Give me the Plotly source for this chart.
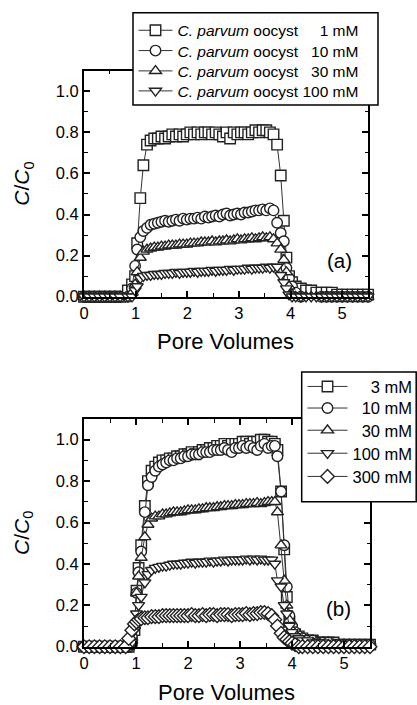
import plotly.graph_objects as go

# ---------------- data: panel (a) ----------------
xa = [0.0, 0.1, 0.2, 0.3, 0.4, 0.5, 0.6, 0.7, 0.85, 0.93,
      0.99, 1.03, 1.09, 1.15, 1.22, 1.29, 1.36, 1.43, 1.50, 1.57,
      1.64, 1.71, 1.78, 1.85, 1.92, 1.99, 2.06, 2.13, 2.20, 2.27,
      2.34, 2.41, 2.48, 2.55, 2.62, 2.69, 2.76, 2.83, 2.90, 2.97,
      3.04, 3.11, 3.18, 3.25, 3.32, 3.39, 3.46, 3.53, 3.60, 3.67,
      3.74, 3.81, 3.87, 3.92, 3.97, 4.03, 4.10, 4.2, 4.3, 4.4,
      4.5, 4.6, 4.7, 4.8, 4.9, 5.0, 5.1, 5.2, 5.3, 5.4, 5.5]

a_1mM = [0, 0, 0, 0, 0, 0, 0, 0, 0.03, 0.06,
         0.10, 0.26, 0.48, 0.64, 0.74, 0.76, 0.77, 0.77, 0.78, 0.77,
         0.78, 0.79, 0.78, 0.79, 0.78, 0.79, 0.80, 0.79, 0.80, 0.79,
         0.80, 0.80, 0.79, 0.80, 0.79, 0.78, 0.80, 0.77, 0.80, 0.79,
         0.80, 0.80, 0.79, 0.80, 0.81, 0.80, 0.81, 0.81, 0.80, 0.79,
         0.74, 0.59, 0.37, 0.19, 0.10, 0.07, 0.05, 0.04, 0.03, 0.03,
         0.02, 0.02, 0.02, 0.02, 0.01, 0.01, 0.01, 0.01, 0.01, 0.01, 0.01]

a_10mM = [0, 0, 0, 0, 0, 0, 0, 0, 0.0, 0.04,
          0.15, 0.23, 0.29, 0.32, 0.335, 0.35, 0.355, 0.36, 0.365, 0.37,
          0.365, 0.37, 0.375, 0.37, 0.38, 0.375, 0.38, 0.38, 0.385, 0.38,
          0.39, 0.385, 0.39, 0.395, 0.39, 0.40, 0.405, 0.395, 0.40, 0.405,
          0.40, 0.41, 0.41, 0.415, 0.42, 0.42, 0.425, 0.42, 0.43, 0.42,
          0.36, 0.31, 0.27, 0.14, 0.09, 0.05, 0.02, 0.0, -0.01, -0.01,
          -0.01, 0.0, 0.0, 0.0, 0.0, 0.0, 0.0, 0.0, 0.0, 0.0, 0.0]

a_30mM = [0, 0, 0, 0, 0, 0, 0, 0, 0.0, 0.02,
          0.06, 0.12, 0.19, 0.22, 0.23, 0.235, 0.24, 0.24, 0.245, 0.245,
          0.25, 0.25, 0.25, 0.255, 0.255, 0.255, 0.26, 0.26, 0.26, 0.265,
          0.265, 0.265, 0.27, 0.265, 0.27, 0.27, 0.275, 0.27, 0.275, 0.28,
          0.275, 0.28, 0.28, 0.285, 0.28, 0.285, 0.29, 0.285, 0.29, 0.28,
          0.26, 0.23, 0.18, 0.12, 0.05, 0.01, 0.0, 0.0, 0.0, 0.0,
          0, 0, 0, 0, 0, 0, 0, 0, 0, 0, 0]

a_100mM = [0, 0, 0, 0, 0, 0, 0, 0, 0.0, 0.0,
           0.03, 0.05, 0.09, 0.10, 0.105, 0.105, 0.11, 0.11, 0.11, 0.115,
           0.115, 0.115, 0.12, 0.115, 0.12, 0.12, 0.12, 0.125, 0.12, 0.125,
           0.125, 0.125, 0.13, 0.125, 0.13, 0.13, 0.13, 0.135, 0.13, 0.135,
           0.135, 0.135, 0.14, 0.135, 0.14, 0.14, 0.14, 0.145, 0.14, 0.145,
           0.145, 0.105, 0.07, 0.04, 0.01, 0.0, 0, 0, 0, 0,
           0, 0, 0, 0, 0, 0, 0, 0, 0, 0, 0]

# ---------------- data: panel (b) ----------------
xb = [0.0, 0.1, 0.2, 0.3, 0.4, 0.5, 0.6, 0.7, 0.8, 0.86,
      0.92, 0.97, 1.01, 1.05, 1.10, 1.17, 1.23, 1.30, 1.37, 1.44,
      1.51, 1.58, 1.65, 1.72, 1.79, 1.86, 1.93, 2.00, 2.07, 2.14,
      2.21, 2.28, 2.35, 2.42, 2.49, 2.56, 2.63, 2.70, 2.77, 2.84,
      2.91, 2.98, 3.05, 3.12, 3.19, 3.26, 3.33, 3.40, 3.47, 3.54,
      3.61, 3.67, 3.72, 3.79, 3.85, 3.90, 3.95, 4.00, 4.06, 4.13,
      4.2, 4.3, 4.4, 4.5, 4.6, 4.7, 4.8, 4.9, 5.0, 5.1,
      5.2, 5.3, 5.4, 5.5]

b_3mM = [0, 0, 0, 0, 0, 0, 0, 0, 0, 0.0,
         0.03, 0.08, 0.27, 0.38, 0.49, 0.68, 0.80, 0.85, 0.87, 0.89,
         0.90, 0.90, 0.91, 0.91, 0.92, 0.92, 0.93, 0.93, 0.94, 0.93,
         0.94, 0.95, 0.95, 0.96, 0.96, 0.97, 0.97, 0.98, 0.97, 0.98,
         0.98, 0.98, 0.99, 0.99, 0.98, 0.99, 0.99, 1.00, 1.00, 0.99,
         0.99, 0.98, 0.95, 0.75, 0.47, 0.24, 0.12, 0.08, 0.06, 0.05,
         0.04, 0.03, 0.03, 0.02, 0.02, 0.02, 0.02, 0.01, 0.01, 0.01,
         0.01, 0.01, 0.01, 0.01]

b_10mM = [0, 0, 0, 0, 0, 0, 0, 0, 0, 0.0,
          0.05, 0.10, 0.26, 0.36, 0.46, 0.65, 0.78, 0.82, 0.85, 0.87,
          0.88, 0.89, 0.90, 0.90, 0.91, 0.91, 0.92, 0.92, 0.93, 0.93,
          0.93, 0.94, 0.94, 0.94, 0.95, 0.95, 0.95, 0.96, 0.95, 0.94,
          0.96, 0.96, 0.97, 0.96, 0.97, 0.96, 0.95, 0.97, 0.98, 0.96,
          0.97, 0.97, 0.92, 0.75, 0.49, 0.29, 0.15, 0.10, 0.07, 0.05,
          0.04, 0.03, 0.03, 0.02, 0.02, 0.02, 0.01, 0.01, 0.01, 0.01,
          0.01, 0.01, 0.01, 0.01]

b_30mM = [0, 0, 0, 0, 0, 0, 0, 0, 0, 0.0,
          0.03, 0.10, 0.26, 0.34, 0.43, 0.53, 0.59, 0.62, 0.63, 0.63,
          0.64, 0.64, 0.645, 0.65, 0.65, 0.65, 0.655, 0.66, 0.66, 0.66,
          0.665, 0.665, 0.67, 0.67, 0.67, 0.675, 0.675, 0.68, 0.68, 0.68,
          0.685, 0.685, 0.685, 0.69, 0.69, 0.69, 0.695, 0.69, 0.695, 0.70,
          0.70, 0.70, 0.65, 0.49, 0.32, 0.20, 0.13, 0.08, 0.06, 0.04,
          0.03, 0.02, 0.02, 0.02, 0.01, 0.01, 0.01, 0.01, 0.01, 0.01,
          0.0, 0.0, 0.0, 0.0]

b_100mM = [0, 0, 0, 0, 0, 0, 0, 0, 0, 0.0,
           0.02, 0.08, 0.16, 0.20, 0.24, 0.31, 0.35, 0.37, 0.38, 0.385,
           0.39, 0.39, 0.395, 0.40, 0.40, 0.40, 0.405, 0.405, 0.41, 0.405,
           0.41, 0.41, 0.41, 0.415, 0.41, 0.415, 0.415, 0.42, 0.415, 0.42,
           0.42, 0.42, 0.42, 0.425, 0.42, 0.425, 0.42, 0.425, 0.42, 0.42,
           0.42, 0.40, 0.32, 0.29, 0.20, 0.16, 0.10, 0.07, 0.05, 0.04,
           0.03, 0.03, 0.02, 0.02, 0.02, 0.01, 0.01, 0.01, 0.01, 0.01,
           0.01, 0.0, 0.0, 0.0]

b_300mM = [0, 0, 0, 0, 0, 0, 0, 0, 0, 0.04,
           0.08, 0.11, 0.12, 0.13, 0.135, 0.14, 0.14, 0.145, 0.145, 0.145,
           0.15, 0.15, 0.15, 0.15, 0.15, 0.15, 0.15, 0.15, 0.155, 0.15,
           0.15, 0.155, 0.15, 0.155, 0.155, 0.15, 0.155, 0.155, 0.155, 0.15,
           0.155, 0.155, 0.155, 0.16, 0.155, 0.16, 0.16, 0.165, 0.165, 0.16,
           0.15, 0.13, 0.10, 0.065, 0.045, 0.035, 0.025, 0.017, 0.01, 0.0,
           0, 0, 0, 0, 0, 0, 0, 0, 0, 0,
           0, 0, 0, 0]

NB = "\u00a0"
a_labels = ["<i>C. parvum</i> oocyst" + NB * 5 + "1 mM",
            "<i>C. parvum</i> oocyst" + NB * 3 + "10 mM",
            "<i>C. parvum</i> oocyst" + NB * 3 + "30 mM",
            "<i>C. parvum</i> oocyst" + NB + "100 mM"]
b_labels = [NB * 4 + "3 mM", NB * 2 + "10 mM", NB * 2 + "30 mM", "100 mM", "300 mM"]

FONT = "Liberation Sans, Arial, sans-serif"
EDGE = "#222222"
W, H = 417, 705


def px_x(p):
    return p / W


def px_y(p):
    return 1 - p / H


fig = go.Figure()
legend_layouts = {}


def add(x, y, sym, name, xa_name, ya_name, legend_id):
    fig.add_trace(go.Scatter(
        x=x, y=y, mode="lines+markers", name=name,
        xaxis=xa_name, yaxis=ya_name, legend=legend_id,
        cliponaxis=False,
        line=dict(color="#333333", width=1),
        marker=dict(symbol=sym, size=10.5, color="white",
                    line=dict(color=EDGE, width=1.4)),
    ))


# one single-entry legend per row so the row spacing follows the reference
rows_a = [30.7, 51.0, 71.3, 91.3]
rows_b = [386.7, 408.3, 430.5, 453.5, 476.7]

syms_a = ["square", "circle", "triangle-up", "triangle-down"]
k = 1
for y, s, n, ry in zip([a_1mM, a_10mM, a_30mM, a_100mM], syms_a, a_labels, rows_a):
    lid = "legend" if k == 1 else "legend%d" % k
    add(xa, y, s, n, "x", "y", lid)
    legend_layouts[lid] = dict(x=px_x(133.5), y=px_y(ry), xanchor="left", yanchor="middle",
                               bgcolor="rgba(0,0,0,0)", borderwidth=0,
                               font=dict(family=FONT, size=15.5, color="black"),
                               itemwidth=34)
    k += 1

syms_b = ["square", "circle", "triangle-up", "triangle-down", "diamond"]
for y, s, n, ry in zip([b_3mM, b_10mM, b_30mM, b_100mM, b_300mM], syms_b, b_labels, rows_b):
    lid = "legend%d" % k
    add(xb, y, s, n, "x2", "y2", lid)
    legend_layouts[lid] = dict(x=px_x(302.5), y=px_y(ry), xanchor="left", yanchor="middle",
                               bgcolor="rgba(0,0,0,0)", borderwidth=0,
                               font=dict(family=FONT, size=16.5, color="black"),
                               itemwidth=40)
    k += 1

axis_common = dict(
    showline=True, linewidth=2, linecolor="black", mirror="allticks",
    ticks="inside", ticklen=6, tickwidth=1.5, tickcolor="black",
    showgrid=False, zeroline=False,
    tickfont=dict(family=FONT, size=16.5, color="black"),
)

xtick_vals = [0, 1, 2, 3, 4, 5]
ytick_vals = [0.0, 0.2, 0.4, 0.6, 0.8, 1.0]
ytick_text = ["0.0", "0.2", "0.4", "0.6", "0.8", "1.0"]

minor_x = dict(dtick=0.5, ticks="inside", ticklen=3.5, tickwidth=1.2, tickcolor="black")
minor_y = dict(dtick=0.1, ticks="inside", ticklen=3.5, tickwidth=1.2, tickcolor="black")

fig.update_layout(
    width=W, height=H,
    margin=dict(l=0, r=0, t=0, b=0, autoexpand=False),
    paper_bgcolor="white", plot_bgcolor="white",
    font=dict(family=FONT, color="black"),
    xaxis=dict(domain=[px_x(84), px_x(368)], range=[0, 5.5], anchor="y",
               tickvals=xtick_vals, minor=minor_x, **axis_common),
    yaxis=dict(domain=[px_y(296.7), px_y(70.7)], range=[0, 1.1], anchor="x",
               tickvals=ytick_vals, ticktext=ytick_text, minor=minor_y, **axis_common),
    xaxis2=dict(domain=[px_x(84), px_x(370)], range=[0, 5.5], anchor="y2",
                tickvals=xtick_vals, minor=minor_x, **axis_common),
    yaxis2=dict(domain=[px_y(646.7), px_y(419)], range=[0, 1.1], anchor="x2",
                tickvals=ytick_vals, ticktext=ytick_text, minor=minor_y, **axis_common),
    showlegend=True,
    **legend_layouts,
)

# legend frames (white boxes with black border, drawn over the axes)
fig.add_shape(type="rect", xref="paper", yref="paper", layer="above",
              x0=px_x(133), x1=px_x(378), y0=px_y(105), y1=px_y(12.7),
              fillcolor="white", line=dict(color="black", width=1.5))
fig.add_shape(type="rect", xref="paper", yref="paper", layer="above",
              x0=px_x(301.7), x1=px_x(416.2), y0=px_y(501.7), y1=px_y(372),
              fillcolor="white", line=dict(color="black", width=1.5))

ann_font_title = dict(family=FONT, size=22, color="black")
annotations = [
    dict(text="Pore Volumes", x=px_x(226), y=px_y(341.7), xref="paper", yref="paper",
         showarrow=False, font=ann_font_title, xanchor="center", yanchor="middle"),
    dict(text="Pore Volumes", x=px_x(227), y=px_y(692), xref="paper", yref="paper",
         showarrow=False, font=ann_font_title, xanchor="center", yanchor="middle"),
    dict(text="<i>C</i>/<i>C</i><sub>0</sub>", x=px_x(23), y=px_y(183.7), xref="paper", yref="paper",
         showarrow=False, font=dict(family=FONT, size=21, color="black"), textangle=-90,
         xanchor="center", yanchor="middle"),
    dict(text="<i>C</i>/<i>C</i><sub>0</sub>", x=px_x(23), y=px_y(533), xref="paper", yref="paper",
         showarrow=False, font=dict(family=FONT, size=21, color="black"), textangle=-90,
         xanchor="center", yanchor="middle"),
    dict(text="(a)", x=px_x(339), y=px_y(260), xref="paper", yref="paper",
         showarrow=False, font=dict(family=FONT, size=20.5, color="black"),
         xanchor="center", yanchor="middle"),
    dict(text="(b)", x=px_x(338), y=px_y(608), xref="paper", yref="paper",
         showarrow=False, font=dict(family=FONT, size=20.5, color="black"),
         xanchor="center", yanchor="middle"),
]
fig.update_layout(annotations=annotations)

fig.write_html(
    "out.html",
    config={"displayModeBar": False},
    post_script="document.body.style.margin='0px';document.body.style.padding='0px';",
)
